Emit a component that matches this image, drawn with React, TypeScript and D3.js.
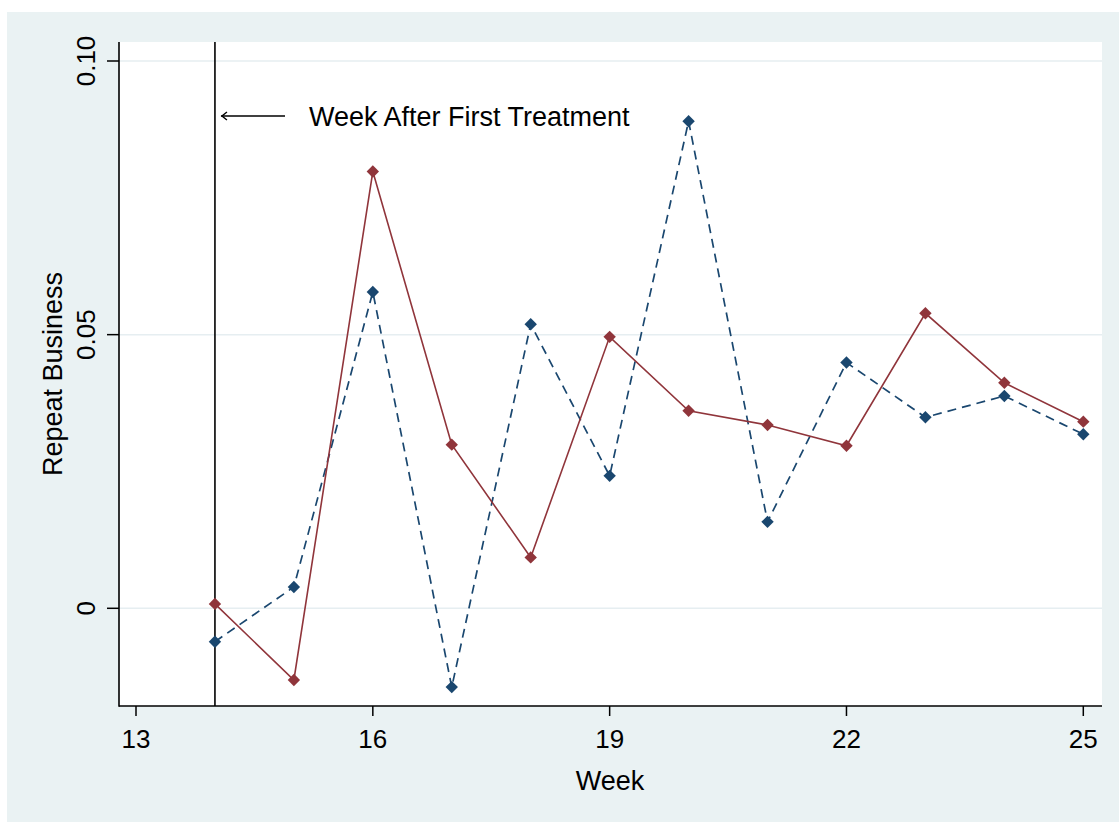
import React from "react";
import * as d3 from "d3";

const weeks = [14, 15, 16, 17, 18, 19, 20, 21, 22, 23, 24, 25];
const blueSeries = [-0.0061, 0.0039, 0.0578, -0.0144, 0.0519, 0.0242, 0.089, 0.0158, 0.0449, 0.0349, 0.0388, 0.0318];
const redSeries = [0.0008, -0.0131, 0.0798, 0.0299, 0.0093, 0.0496, 0.0361, 0.0335, 0.0297, 0.0539, 0.0412, 0.0341];
const xTicks = [13, 16, 19, 22, 25];
const yTicks = [0, 0.05, 0.1];
const yTickLabels = ["0", "0.05", "0.10"];
const treatmentWeek = 14;
const annotationText = "Week After First Treatment";

const W = 1119;
const H = 823;
const plotLeft = 119;
const plotRight = 1102;
const plotTop = 42;
const plotBottom = 706;

const BG = "#eaf2f3";
const BLUE = "#1a476f";
const RED = "#90353b";
const FONT = "'Liberation Sans', Arial, sans-serif";

export default function App() {
  const x = d3.scaleLinear().domain([13, 25]).range([136, 1083.3]);
  const y = d3.scaleLinear().domain([0, 0.1]).range([608.3, 61]);

  const line = d3
    .line<[number, number]>()
    .x((d) => x(d[0]))
    .y((d) => y(d[1]));

  const bluePts: [number, number][] = weeks.map((w, i) => [w, blueSeries[i]]);
  const redPts: [number, number][] = weeks.map((w, i) => [w, redSeries[i]]);

  const diamond = (cx: number, cy: number, r: number) =>
    `M${cx},${cy - r}L${cx + r},${cy}L${cx},${cy + r}L${cx - r},${cy}Z`;

  const ax = x(treatmentWeek);
  const arrowY = 116;

  return (
    <svg
      width={W}
      height={H}
      style={{ position: "absolute", left: 0, top: 0, display: "block" }}
      fontFamily={FONT}
    >
      <rect x={0} y={0} width={W} height={H} fill="#ffffff" />
      <rect x={7} y={12} width={W - 7} height={810} fill={BG} />
      <rect
        x={plotLeft}
        y={plotTop}
        width={plotRight - plotLeft}
        height={plotBottom - plotTop}
        fill="#ffffff"
      />
      {yTicks.map((t) => (
        <line
          key={"g" + t}
          x1={plotLeft}
          x2={plotRight}
          y1={y(t)}
          y2={y(t)}
          stroke="#e6eef1"
          strokeWidth={1.5}
        />
      ))}
      <line x1={ax} x2={ax} y1={plotTop} y2={plotBottom} stroke="#000" strokeWidth={1.6} />
      <line x1={285} x2={ax + 6} y1={arrowY} y2={arrowY} stroke="#000" strokeWidth={1.4} />
      <path
        d={`M${ax + 12},${arrowY - 4}L${ax + 7},${arrowY}L${ax + 12},${arrowY + 4}`}
        fill="none"
        stroke="#000"
        strokeWidth={1.4}
      />
      <text x={309} y={126} fontSize={27} fill="#000">
        {annotationText}
      </text>
      <path
        d={line(bluePts) || ""}
        fill="none"
        stroke={BLUE}
        strokeWidth={1.7}
        strokeDasharray="9,6"
      />
      <path d={line(redPts) || ""} fill="none" stroke={RED} strokeWidth={1.6} />
      {bluePts.map((p, i) => (
        <path key={"b" + i} d={diamond(x(p[0]), y(p[1]), 6.2)} fill={BLUE} />
      ))}
      {redPts.map((p, i) => (
        <path key={"r" + i} d={diamond(x(p[0]), y(p[1]), 6.2)} fill={RED} />
      ))}
      <line x1={plotLeft} x2={plotLeft} y1={plotTop} y2={plotBottom + 0.8} stroke="#000" strokeWidth={1.6} />
      <line x1={plotLeft} x2={plotRight} y1={plotBottom} y2={plotBottom} stroke="#000" strokeWidth={1.6} />
      {yTicks.map((t, i) => (
        <g key={"yt" + t}>
          <line x1={107} x2={plotLeft} y1={y(t)} y2={y(t)} stroke="#000" strokeWidth={1.5} />
          <text
            transform={`translate(95,${y(t)}) rotate(-90)`}
            textAnchor="middle"
            fontSize={26}
            fill="#000"
          >
            {yTickLabels[i]}
          </text>
        </g>
      ))}
      {xTicks.map((t) => (
        <g key={"xt" + t}>
          <line x1={x(t)} x2={x(t)} y1={plotBottom} y2={plotBottom + 10} stroke="#000" strokeWidth={1.5} />
          <text x={x(t)} y={748} textAnchor="middle" fontSize={26} fill="#000">
            {t}
          </text>
        </g>
      ))}
      <text x={610} y={790} textAnchor="middle" fontSize={27} fill="#000">
        Week
      </text>
      <text
        transform={`translate(62,374) rotate(-90)`}
        textAnchor="middle"
        fontSize={27}
        fill="#000"
      >
        Repeat Business
      </text>
    </svg>
  );
}
